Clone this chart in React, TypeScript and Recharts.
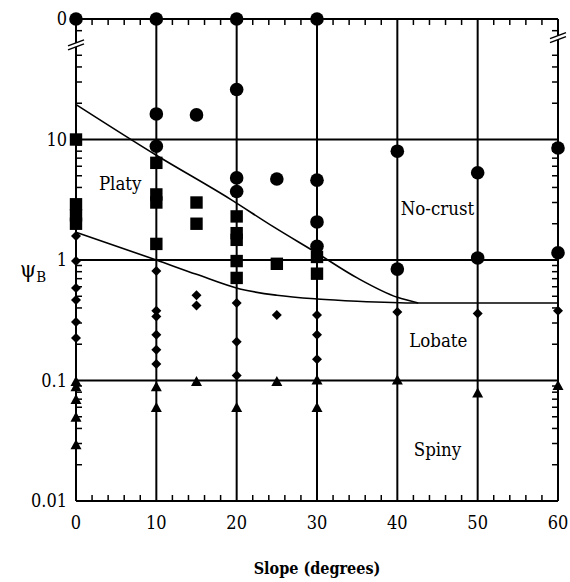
import React from 'react';
import {
  ComposedChart,
  XAxis,
  YAxis,
  Scatter,
  Line,
  ReferenceLine,
  ReferenceDot,
} from 'recharts';

// crust type observations: [slope, psiB]; psiB = 100 stands for the "0" row on top
const noCrust = [
  [0, 100], [10, 100], [20, 100], [30, 100],
  [10, 16.3], [10, 8.8], [15, 16], [20, 26], [20, 4.8], [20, 3.7],
  [25, 4.7], [30, 4.6], [30, 2.07], [30, 1.3],
  [40, 8.0], [40, 0.84], [50, 5.3], [50, 1.04], [60, 8.5], [60, 1.15],
];
const platy = [
  [0, 10], [0, 2.9], [0, 2.35], [0, 2.0],
  [10, 6.4], [10, 3.5], [10, 3.0], [10, 1.36],
  [15, 3.0], [15, 2.0],
  [20, 2.3], [20, 1.67], [20, 1.47], [20, 0.98], [20, 0.71],
  [25, 0.93], [30, 1.06], [30, 0.77],
];
const lobate = [
  [0, 1.58], [0, 0.98], [0, 0.585], [0, 0.466], [0, 0.306], [0, 0.225],
  [10, 0.81], [10, 0.38], [10, 0.34], [10, 0.24], [10, 0.18], [10, 0.137],
  [15, 0.51], [15, 0.42],
  [20, 0.44], [20, 0.21], [20, 0.11],
  [25, 0.35], [30, 0.35], [30, 0.24], [30, 0.15],
  [40, 0.37], [50, 0.36], [60, 0.38],
];
const spiny = [
  [0, 0.097], [0, 0.088], [0, 0.069], [0, 0.049], [0, 0.029],
  [10, 0.088], [10, 0.059], [15, 0.097], [20, 0.059], [25, 0.097],
  [30, 0.1], [30, 0.059], [40, 0.1], [50, 0.078], [60, 0.09],
];

// regime boundaries
const upperBoundary = [
  [0, 19.5], [10, 7.4], [19.2, 3.2], [24.5, 1.9], [30, 1.14],
  [35, 0.71], [40, 0.49], [42.6, 0.44],
];
const lowerBoundary = [
  [0, 1.7], [10, 1.0], [15, 0.76], [20.4, 0.575], [25, 0.51],
  [30, 0.475], [35, 0.455], [42.6, 0.44], [60, 0.44],
];

const xTicks = [0, 2, 4, 6, 8, 10, 12, 14, 16, 18, 20, 22, 24, 26, 28, 30,
  32, 34, 36, 38, 40, 42, 44, 46, 48, 50, 52, 54, 56, 58, 60];
const yTicks = [
  0.01, 0.02, 0.03, 0.04, 0.05, 0.06, 0.07, 0.08, 0.09,
  0.1, 0.2, 0.3, 0.4, 0.5, 0.6, 0.7, 0.8, 0.9,
  1, 2, 3, 4, 5, 6, 7, 8, 9,
  10, 20, 30, 40, 50, 80, 100,
];
const yLabels: Record<string, string> = { '0.01': '0.01', '0.1': '0.1', '1': '1', '10': '10', '100': '0' };
const xGrid = [10, 20, 30, 40, 50];
const yGrid = [0.1, 1, 10];

const regionLabels = [
  { text: 'Platy', x: 5.5, y: 4.3 },
  { text: 'No-crust', x: 45, y: 2.7 },
  { text: 'Lobate', x: 45.1, y: 0.213 },
  { text: 'Spiny', x: 45, y: 0.027 },
];

const toPoints = (rows: number[][]) => rows.map(([x, y]) => ({ x, y }));

const FONT = "'DejaVu Serif Condensed', 'DejaVu Serif', serif";
const PLOT_W = 482;
const PLOT_H = 482;

const XTick = ({ x, y, payload }: any) => {
  const v = payload.value;
  const major = v % 10 === 0;
  return (
    <g>
      {!major && (
        <>
          <line x1={x} y1={y} x2={x} y2={y - 6} stroke="#000" strokeWidth={1.5} />
          <line x1={x} y1={y - PLOT_H} x2={x} y2={y - PLOT_H + 6} stroke="#000" strokeWidth={1.5} />
        </>
      )}
      {major && (
        <text x={x} y={y + 28} textAnchor="middle" style={{ fontFamily: FONT, fontSize: 18 }} fill="#000">
          {v}
        </text>
      )}
    </g>
  );
};

const YTick = ({ x, y, payload }: any) => {
  const v = payload.value;
  const label = yLabels[String(v)];
  return (
    <g>
      {!label && (
        <>
          <line x1={x} y1={y} x2={x + 6} y2={y} stroke="#000" strokeWidth={1.5} />
          <line x1={x + PLOT_W} y1={y} x2={x + PLOT_W - 6} y2={y} stroke="#000" strokeWidth={1.5} />
        </>
      )}
      {label && (
        <text x={x - 9} y={y + 6} textAnchor="end" style={{ fontFamily: FONT, fontSize: 18 }} fill="#000">
          {label}
        </text>
      )}
    </g>
  );
};

const PsiLabel = ({ viewBox }: any) => {
  const cy = viewBox.y + viewBox.height / 2;
  return (
    <text x={viewBox.x + 20} y={cy + 17} style={{ fontFamily: FONT, fontSize: 23 }} fill="#000">
      ψ
      <tspan style={{ fontSize: 15 }} dy={5}>B</tspan>
    </text>
  );
};

const BreakMark = ({ cx, cy }: any) => (
  <g>
    <polygon points={`${cx - 8},${cy + 1} ${cx + 8},${cy - 5} ${cx + 8},${cy - 1} ${cx - 8},${cy + 5}`} fill="#fff" />
    <line x1={cx - 8} y1={cy + 1} x2={cx + 8} y2={cy - 5} stroke="#000" strokeWidth={1.5} />
    <line x1={cx - 8} y1={cy + 5} x2={cx + 8} y2={cy - 1} stroke="#000" strokeWidth={1.5} />
  </g>
);

const CircleMark = ({ cx, cy }: any) => <circle cx={cx} cy={cy} r={6.8} fill="#000" />;
const SquareMark = ({ cx, cy }: any) => <rect x={cx - 6.2} y={cy - 6.2} width={12.4} height={12.4} fill="#000" />;
const DiamondMark = ({ cx, cy }: any) => (
  <polygon points={`${cx},${cy - 5} ${cx + 5},${cy} ${cx},${cy + 5} ${cx - 5},${cy}`} fill="#000" />
);
const TriangleMark = ({ cx, cy }: any) => (
  <polygon points={`${cx},${cy - 6} ${cx + 5.5},${cy + 4} ${cx - 5.5},${cy + 4}`} fill="#000" />
);

export default function App() {
  return (
    <div style={{ position: 'absolute', left: 0, top: 0, background: '#fff', fontFamily: FONT }}>
      <ComposedChart width={570} height={582} margin={{ top: 19, right: 12, bottom: 0, left: 0 }}>
        <XAxis
          dataKey="x"
          type="number"
          domain={[0, 60]}
          ticks={xTicks}
          interval={0}
          tick={(p: any) => <XTick {...p} />}
          tickLine={false}
          tickSize={0}
          tickMargin={0}
          height={81}
          axisLine={{ stroke: '#000', strokeWidth: 2 }}
          label={{
            value: 'Slope (degrees)',
            position: 'insideBottom',
            offset: 8,
            style: { fontFamily: FONT, fontSize: 16, fontWeight: 'bold' },
            fill: '#000',
          }}
        />
        <YAxis
          dataKey="y"
          type="number"
          scale="log"
          domain={[0.01, 100]}
          ticks={yTicks}
          interval={0}
          tick={(p: any) => <YTick {...p} />}
          tickLine={false}
          tickSize={0}
          tickMargin={0}
          width={76}
          axisLine={{ stroke: '#000', strokeWidth: 2 }}
          label={<PsiLabel />}
        />
        {xGrid.map((v) => (
          <ReferenceLine key={`gx${v}`} x={v} stroke="#000" strokeWidth={2} />
        ))}
        {yGrid.map((v) => (
          <ReferenceLine key={`gy${v}`} y={v} stroke="#000" strokeWidth={2} />
        ))}
        <ReferenceLine x={60} stroke="#000" strokeWidth={2} />
        <ReferenceLine y={100} stroke="#000" strokeWidth={2} />
        <Line
          data={toPoints(upperBoundary)}
          dataKey="y"
          type="monotone"
          stroke="#000"
          strokeWidth={1.6}
          dot={false}
          isAnimationActive={false}
        />
        <Line
          data={toPoints(lowerBoundary)}
          dataKey="y"
          type="monotone"
          stroke="#000"
          strokeWidth={1.6}
          dot={false}
          isAnimationActive={false}
        />
        <Scatter data={toPoints(noCrust)} dataKey="y" shape={CircleMark} isAnimationActive={false} />
        <Scatter data={toPoints(platy)} dataKey="y" shape={SquareMark} isAnimationActive={false} />
        <Scatter data={toPoints(lobate)} dataKey="y" shape={DiamondMark} isAnimationActive={false} />
        <Scatter data={toPoints(spiny)} dataKey="y" shape={TriangleMark} isAnimationActive={false} />
        {regionLabels.map((r) => (
          <ReferenceDot
            key={r.text}
            x={r.x}
            y={r.y}
            r={0}
            ifOverflow="visible"
            label={{ value: r.text, position: 'center', style: { fontFamily: FONT, fontSize: 18.5 }, fill: '#000' }}
          />
        ))}
        <ReferenceDot x={0} y={61} r={0} ifOverflow="visible" shape={BreakMark} />
        <ReferenceDot x={60} y={70} r={0} ifOverflow="visible" shape={BreakMark} />
      </ComposedChart>
    </div>
  );
}
